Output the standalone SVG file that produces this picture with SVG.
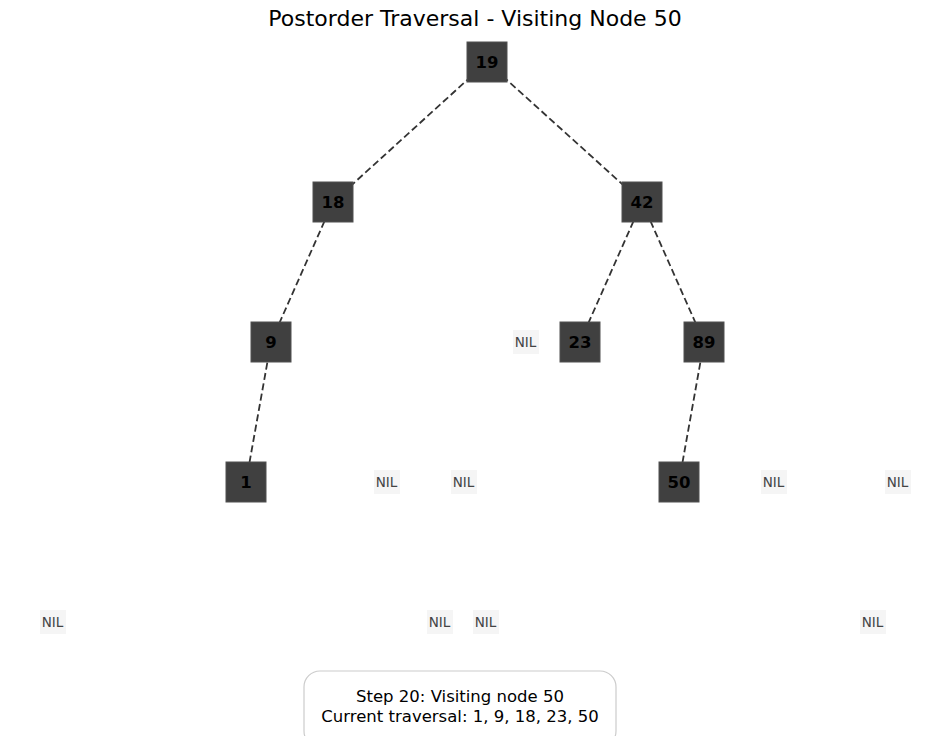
<svg xmlns="http://www.w3.org/2000/svg" width="950" height="736" viewBox="0 0 950 736">
<style>
.title{font-family:"DejaVu Sans",sans-serif;font-size:22px;fill:#000;text-anchor:middle}
.nb{fill:#404040;stroke:#505050;stroke-width:1}
.nt{font-family:"DejaVu Sans",sans-serif;font-size:16.5px;font-weight:bold;fill:#000;text-anchor:middle;dominant-baseline:central}
.nilb{fill:#f5f5f5}
.nilt{font-family:"DejaVu Sans",sans-serif;font-size:13.5px;fill:#444;text-anchor:middle;dominant-baseline:central}
.edge{stroke:#333;stroke-width:1.8;stroke-dasharray:7,3.5;fill:none}
.info{font-family:"DejaVu Sans",sans-serif;font-size:16.5px;fill:#000;text-anchor:middle}
</style>
<rect width="950" height="736" fill="#fff"/>
<text class="title" x="475" y="26">Postorder Traversal - Visiting Node 50</text>
<g id="edges">
<line class="edge" x1="487" y1="62" x2="333" y2="202"/>
<line class="edge" x1="487" y1="62" x2="642" y2="202"/>
<line class="edge" x1="333" y1="202" x2="271" y2="342"/>
<line class="edge" x1="642" y1="202" x2="580" y2="342"/>
<line class="edge" x1="642" y1="202" x2="704" y2="342"/>
<line class="edge" x1="271" y1="342" x2="246" y2="482"/>
<line class="edge" x1="704" y1="342" x2="679" y2="482"/>
</g>
<g id="n19"><rect class="nb" x="467" y="42" width="40" height="40"/><text class="nt" x="487" y="62">19</text></g>
<g id="n18"><rect class="nb" x="313" y="182" width="40" height="40"/><text class="nt" x="333" y="202">18</text></g>
<g id="n42"><rect class="nb" x="622" y="182" width="40" height="40"/><text class="nt" x="642" y="202">42</text></g>
<g id="n9"><rect class="nb" x="251" y="322" width="40" height="40"/><text class="nt" x="271" y="342">9</text></g>
<g id="n23"><rect class="nb" x="560" y="322" width="40" height="40"/><text class="nt" x="580" y="342">23</text></g>
<g id="n89"><rect class="nb" x="684" y="322" width="40" height="40"/><text class="nt" x="704" y="342">89</text></g>
<g id="n1"><rect class="nb" x="226" y="462" width="40" height="40"/><text class="nt" x="246" y="482">1</text></g>
<g id="n50"><rect class="nb" x="659" y="462" width="40" height="40"/><text class="nt" x="679" y="482">50</text></g>
<g id="nil1"><rect class="nilb" x="513" y="330" width="26" height="24"/><text class="nilt" x="525.5" y="342">NIL</text></g>
<g id="nil2"><rect class="nilb" x="374" y="470" width="26" height="24"/><text class="nilt" x="386.5" y="482">NIL</text></g>
<g id="nil3"><rect class="nilb" x="451" y="470" width="26" height="24"/><text class="nilt" x="463.5" y="482">NIL</text></g>
<g id="nil4"><rect class="nilb" x="761" y="470" width="26" height="24"/><text class="nilt" x="773.5" y="482">NIL</text></g>
<g id="nil5"><rect class="nilb" x="885" y="470" width="26" height="24"/><text class="nilt" x="897.5" y="482">NIL</text></g>
<g id="nil6"><rect class="nilb" x="40" y="610" width="26" height="24"/><text class="nilt" x="52.5" y="622">NIL</text></g>
<g id="nil7"><rect class="nilb" x="427" y="610" width="26" height="24"/><text class="nilt" x="439.5" y="622">NIL</text></g>
<g id="nil8"><rect class="nilb" x="473" y="610" width="26" height="24"/><text class="nilt" x="485.5" y="622">NIL</text></g>
<g id="nil9"><rect class="nilb" x="860" y="610" width="26" height="24"/><text class="nilt" x="872.5" y="622">NIL</text></g>
<g id="info">
<rect x="304" y="671" width="312" height="76" rx="16" fill="#fff" stroke="#ccc" stroke-width="1.2"/>
<text class="info" x="460" y="702">Step 20: Visiting node 50</text>
<text class="info" x="460" y="722">Current traversal: 1, 9, 18, 23, 50</text>
</g>
</svg>
